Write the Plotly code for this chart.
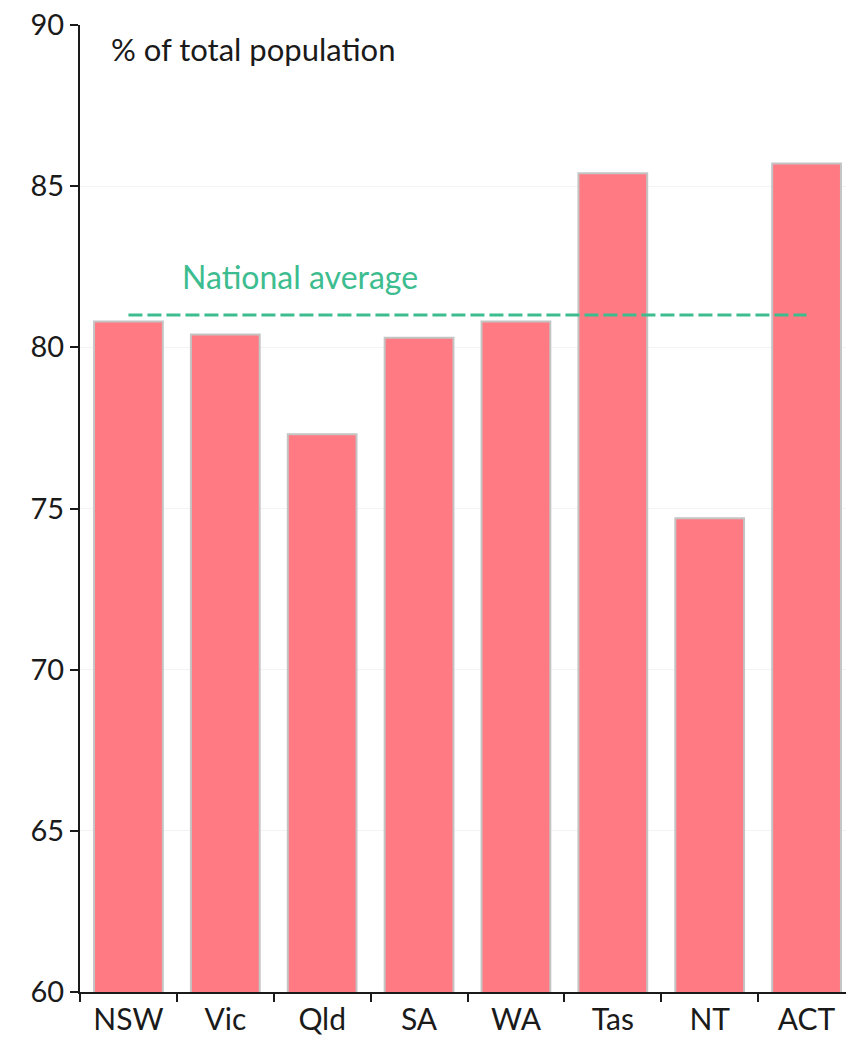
import plotly.graph_objects as go

states = ["NSW", "Vic", "Qld", "SA", "WA", "Tas", "NT", "ACT"]
values = [80.8, 80.4, 77.3, 80.3, 80.8, 85.4, 74.7, 85.7]
national_avg = 81.0
y_ticks = [60, 65, 70, 75, 80, 85, 90]

FONT = "Lato"
fig = go.Figure()
fig.add_trace(go.Bar(
    x=states, y=values, width=0.71,
    marker=dict(color="#ff7a82", line=dict(color="#c4c4c4", width=2)),
    showlegend=False, hoverinfo="x+y",
))
fig.add_trace(go.Scatter(
    x=[states[0], states[-1]], y=[national_avg, national_avg], mode="lines",
    line=dict(color="#3dbd8f", width=3, dash="14px,5px"), showlegend=False,
))
fig.add_annotation(x=0.129, xref="paper", y=82.2, yref="y", text="National average",
                   showarrow=False, xanchor="left", yanchor="middle",
                   font=dict(family=FONT, size=32, color="#3dbd8f"))
fig.add_annotation(x=0.038, xref="paper", y=89.25, yref="y", text="% of total population",
                   showarrow=False, xanchor="left", yanchor="middle",
                   font=dict(family=FONT, size=31, color="#1a1a1a"))

fig.update_layout(
    width=854, height=1050,
    margin=dict(l=72, r=7, t=17, b=66),
    plot_bgcolor="white", paper_bgcolor="white",
    font=dict(family=FONT, size=30, color="#1a1a1a"),
)
fig.update_xaxes(
    type="category", tickson="boundaries", ticks="outside", ticklen=8, tickwidth=2,
    tickcolor="#1a1a1a", showline=True, linecolor="#1a1a1a", linewidth=2,
    showgrid=False, range=[-0.5, 7.5], tickfont=dict(size=30),
)
fig.update_yaxes(
    range=[60, 90], tickvals=y_ticks, ticks="outside", ticklen=8, tickwidth=2,
    tickcolor="#1a1a1a", showline=True, linecolor="#1a1a1a", linewidth=2,
    showgrid=True, gridcolor="#f3f3f3", gridwidth=1, zeroline=False,
    tickfont=dict(size=29), automargin=False, ticklabeloverflow="allow",
)
fig.write_html("out.html")
